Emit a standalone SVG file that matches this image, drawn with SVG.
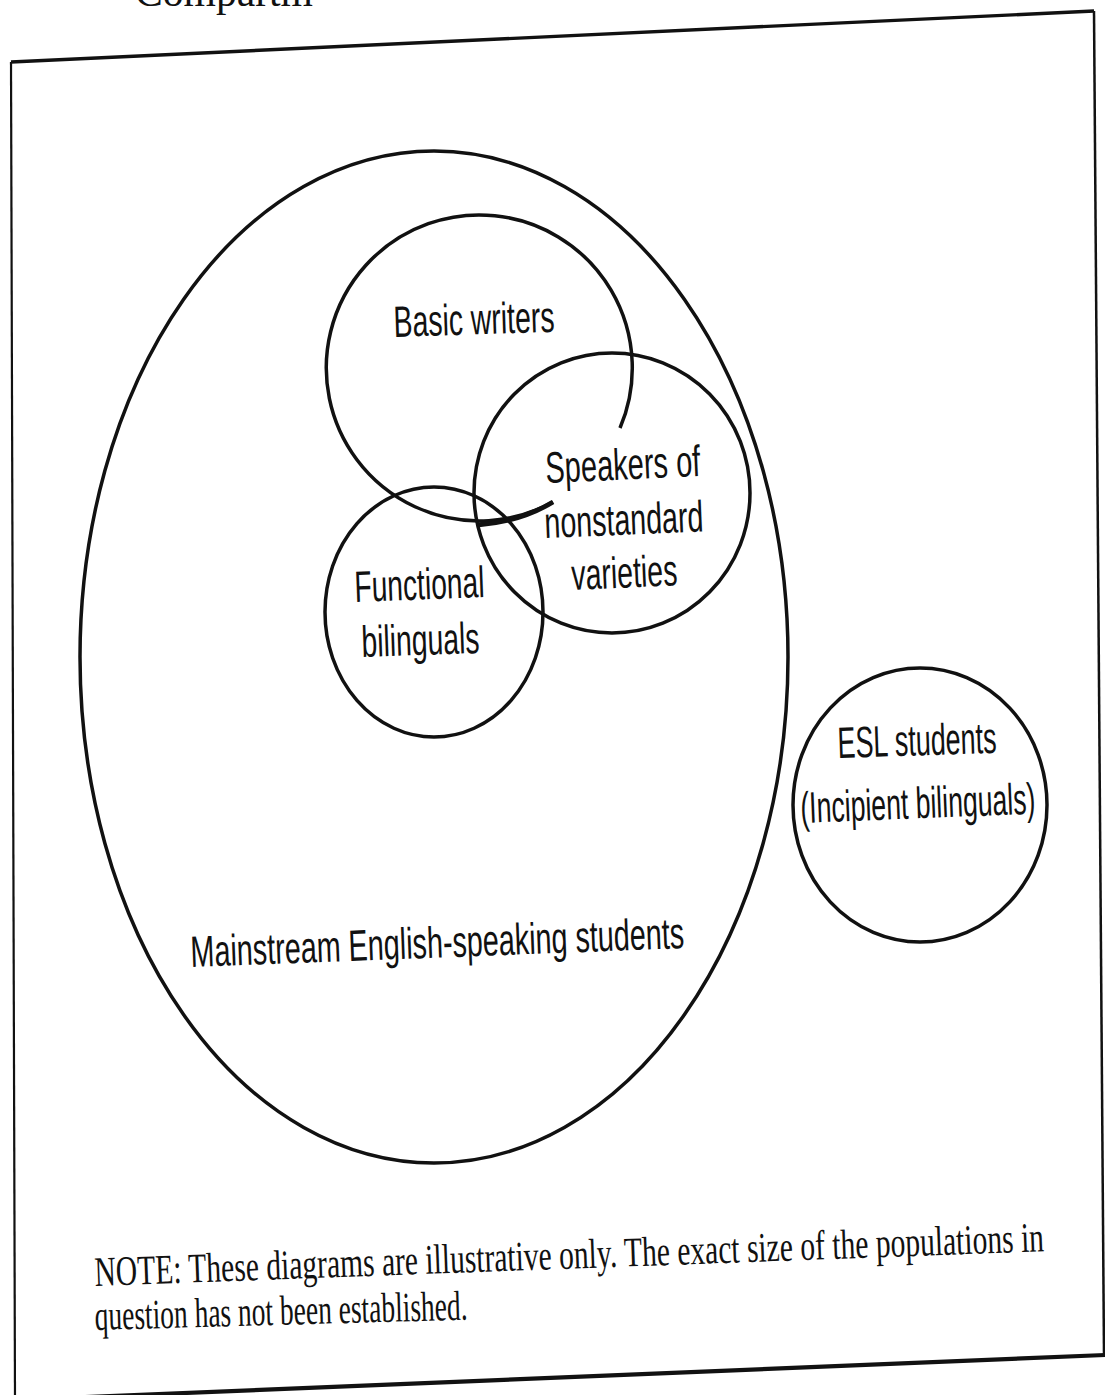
<svg xmlns="http://www.w3.org/2000/svg" width="1105" height="1395" viewBox="0 0 1105 1395">
  <style>
    .ring { fill: none; stroke: #111; stroke-width: 3.5; }
    .lbl { font-family: "Liberation Sans", Arial, sans-serif; font-size: 44px; fill: #111; }
    .note { font-family: "Liberation Serif", "Times New Roman", serif; font-size: 42px; fill: #111; }
  </style>
  <rect x="0" y="0" width="1105" height="1395" fill="#ffffff"/>

  <g id="title">
    <text class="note" x="135" y="6" font-size="40" textLength="178" lengthAdjust="spacingAndGlyphs">Compartm</text>
  </g>

  <g id="frame">
    <path d="M11,62 L1094,11" fill="none" stroke="#111" stroke-width="3.4"/>
    <path d="M1094,11 L1104,1356" fill="none" stroke="#111" stroke-width="2.5"/>
    <path d="M11,62 L15,1400" fill="none" stroke="#111" stroke-width="2.2"/>
    <path d="M15,1400 L1105,1355" fill="none" stroke="#111" stroke-width="4.2"/>
  </g>

  <g id="mainstream">
    <ellipse class="ring" cx="434" cy="657" rx="354" ry="506"/>
    <text class="lbl" x="191" y="967" textLength="494" lengthAdjust="spacingAndGlyphs" transform="rotate(-2.2 191 967)">Mainstream English-speaking students</text>
  </g>

  <g id="basic-writers">
    <path class="ring" d="M620,428 A153,153 0 1 0 553,502"/>
    <path d="M477,525 Q520,522 553,502" fill="none" stroke="#111" stroke-width="4.8"/>
    <text class="lbl" x="394" y="337" textLength="161" lengthAdjust="spacingAndGlyphs" transform="rotate(-1.9 394 337)">Basic writers</text>
  </g>

  <g id="speakers-nonstandard">
    <ellipse class="ring" cx="612" cy="493" rx="138" ry="140" stroke-width="3.9"/>
    <text class="lbl" x="546" y="483" textLength="155" lengthAdjust="spacingAndGlyphs" transform="rotate(-2.6 546 483)">Speakers of</text>
    <text class="lbl" x="545" y="538" textLength="159" lengthAdjust="spacingAndGlyphs" transform="rotate(-2.4 545 538)">nonstandard</text>
    <text class="lbl" x="572" y="590" textLength="106" lengthAdjust="spacingAndGlyphs" transform="rotate(-2.6 572 590)">varieties</text>
  </g>

  <g id="functional-bilinguals">
    <ellipse class="ring" cx="434" cy="612" rx="109" ry="125"/>
    <text class="lbl" x="355" y="602" textLength="130" lengthAdjust="spacingAndGlyphs" transform="rotate(-2.2 355 602)">Functional</text>
    <text class="lbl" x="362" y="657" textLength="118" lengthAdjust="spacingAndGlyphs" transform="rotate(-2 362 657)">bilinguals</text>
  </g>

  <g id="esl-students">
    <ellipse class="ring" cx="920" cy="805" rx="127" ry="137"/>
    <text class="lbl" x="838" y="758" textLength="159" lengthAdjust="spacingAndGlyphs" transform="rotate(-1.9 838 758)">ESL students</text>
    <text class="lbl" x="801" y="823" textLength="235" lengthAdjust="spacingAndGlyphs" transform="rotate(-2.3 801 823)">(Incipient bilinguals)</text>
  </g>

  <g id="connectors"></g>

  <g id="note">
    <text class="note" x="95" y="1286" textLength="950" lengthAdjust="spacingAndGlyphs" transform="rotate(-2.1 95 1286)">NOTE: These diagrams are illustrative only. The exact size of the populations in</text>
    <text class="note" x="95" y="1330" textLength="373" lengthAdjust="spacingAndGlyphs" transform="rotate(-1.6 95 1330)">question has not been established.</text>
  </g>
</svg>
